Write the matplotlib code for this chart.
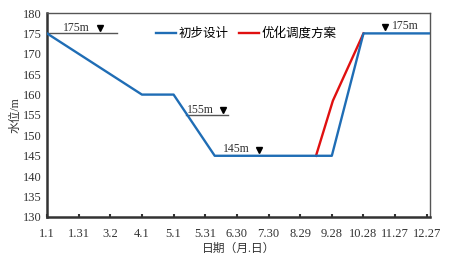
import matplotlib.pyplot as plt

# day-of-year positions for the ticks (every 30 days from 1.1)
tick_days = [0, 30, 60, 90, 120, 150, 180, 210, 240, 270, 300, 330, 360]
tick_labels = ["1.1", "1.31", "3.2", "4.1", "5.1", "5.31", "6.30", "7.30",
               "8.29", "9.28", "10.28", "11.27", "12.27"]

design_days = [0, 90, 120, 159, 270, 300, 363]
design_level = [175, 160, 160, 145, 145, 175, 175]

opt_days = [255, 271, 300]
opt_level = [145, 158.5, 175]

FONT = ["Liberation Serif", "Noto Sans CJK SC", "DejaVu Sans"]
plt.rcParams["font.family"] = FONT

fig = plt.figure(figsize=(4.54, 2.58), dpi=100)
ax = fig.add_axes([0.1035, 0.159, 0.8435, 0.7906])

ax.plot(design_days, design_level, color="#1f6db5", lw=1.7, label="初步设计", zorder=3)
ax.plot(opt_days, opt_level, color="#e01010", lw=1.7, label="优化调度方案", zorder=2)

# level markers
ax.plot([0, 66], [175, 175], color="#555555", lw=1.0)
ax.text(15, 175.6, "175m", fontsize=8.5, color="#333333")
ax.plot([50], [176.3], marker="v", color="black", ms=5)

ax.plot([132, 172], [155, 155], color="#555555", lw=1.0)
ax.text(133, 155.6, "155m", fontsize=8.5, color="#333333")
ax.plot([167], [156.3], marker="v", color="black", ms=5)

ax.text(167, 146.0, "145m", fontsize=8.5, color="#333333")
ax.plot([201], [146.4], marker="v", color="black", ms=5)

ax.plot([320], [176.5], marker="v", color="black", ms=5)
ax.text(327, 176.0, "175m", fontsize=8.5, color="#333333")

ax.set_xlim(0, 363)
ax.set_ylim(130, 180)
ax.set_xticks(tick_days)
ax.set_xticklabels(tick_labels)
ax.set_yticks(range(130, 181, 5))
ax.tick_params(axis="x", direction="in", length=2, width=1.5, labelsize=9,
               colors="#333333", pad=8)
ax.tick_params(axis="y", length=0, labelsize=9, colors="#333333", pad=4)

for side in ["left", "bottom"]:
    ax.spines[side].set_linewidth(1.8)
    ax.spines[side].set_color("#333333")
for side in ["top", "right"]:
    ax.spines[side].set_linewidth(1.0)
    ax.spines[side].set_color("#555555")

ax.set_xlabel("日期（月.日）", fontsize=8.5, color="#333333", labelpad=2)
ax.set_ylabel("水位/m", fontsize=8.5, color="#333333", labelpad=1)

ax.legend(loc="upper center", bbox_to_anchor=(0.52, 0.985), ncol=2, frameon=False,
          fontsize=9, handlelength=1.6, handletextpad=0.2, columnspacing=0.8)

fig.savefig("out.png", dpi=100)
